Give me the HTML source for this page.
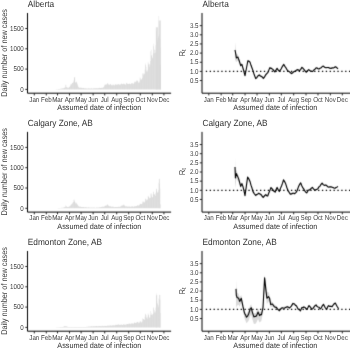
<!DOCTYPE html><html><head><meta charset="utf-8"><style>html,body{margin:0;padding:0;background:#fff;width:350px;height:350px;overflow:hidden}svg{display:block}text{font-family:"Liberation Sans", sans-serif;text-rendering:geometricPrecision}</style></head><body>
<div id="w"><svg width="350" height="350" viewBox="0 0 350 350">
<defs><filter id="bl" x="0" y="0" width="350" height="350" filterUnits="userSpaceOnUse" color-interpolation-filters="sRGB"><feConvolveMatrix order="3" kernelMatrix="0.0144 0.0912 0.0144 0.0912 0.5776 0.0912 0.0144 0.0912 0.0144" divisor="1" edgeMode="duplicate"/></filter></defs>
<g filter="url(#bl)"><rect width="350" height="350" fill="#fff"/>
<path fill="#e3e3e3" d="M158.6 89.4H160.9V20.38H158.6zM155.8 89.4H158.1V27.28H155.8z"/>
<path fill="#d9d9d9" d="M55.79 89.4h0.35v-0.06h-0.35zM56.18 89.4h0.35v-0.12h-0.35zM56.57 89.4h0.35v-0.15h-0.35zM56.95 89.4h0.35v-0.19h-0.35zM57.34 89.4h0.35v-0.23h-0.35zM57.73 89.4h0.35v-0.25h-0.35zM58.11 89.4h0.35v-0.34h-0.35zM58.5 89.4h0.35v-0.41h-0.35zM58.89 89.4h0.35v-0.48h-0.35zM59.27 89.4h0.35v-0.46h-0.35zM59.66 89.4h0.35v-0.48h-0.35zM60.05 89.4h0.35v-0.55h-0.35zM60.43 89.4h0.35v-0.65h-0.35zM60.82 89.4h0.35v-0.68h-0.35zM61.21 89.4h0.35v-0.88h-0.35zM61.59 89.4h0.35v-0.99h-0.35zM61.98 89.4h0.35v-1.04h-0.35zM62.37 89.4h0.35v-1h-0.35zM62.76 89.4h0.35v-1h-0.35zM63.14 89.4h0.35v-1.16h-0.35zM63.53 89.4h0.35v-1.13h-0.35zM63.92 89.4h0.35v-1.6h-0.35zM64.3 89.4h0.35v-1.61h-0.35zM64.69 89.4h0.35v-1.63h-0.35zM65.08 89.4h0.35v-2.07h-0.35zM65.46 89.4h0.35v-4.62h-0.35zM65.85 89.4h0.35v-4.73h-0.35zM66.24 89.4h0.35v-2.32h-0.35zM66.62 89.4h0.35v-2.08h-0.35zM67.01 89.4h0.35v-1.98h-0.35zM67.4 89.4h0.35v-1.71h-0.35zM67.79 89.4h0.35v-1.62h-0.35zM68.17 89.4h0.35v-1.57h-0.35zM68.56 89.4h0.35v-1.73h-0.35zM68.95 89.4h0.35v-2.04h-0.35zM69.33 89.4h0.35v-2.75h-0.35zM69.72 89.4h0.35v-2.76h-0.35zM70.11 89.4h0.35v-3.59h-0.35zM70.49 89.4h0.35v-4.96h-0.35zM70.88 89.4h0.35v-5.1h-0.35zM71.27 89.4h0.35v-4.98h-0.35zM71.65 89.4h0.35v-5.69h-0.35zM72.04 89.4h0.35v-6.66h-0.35zM72.43 89.4h0.35v-6.31h-0.35zM72.82 89.4h0.35v-6.47h-0.35zM73.2 89.4h0.35v-7.45h-0.35zM73.59 89.4h0.35v-8.95h-0.35zM73.98 89.4h0.35v-12h-0.35zM74.36 89.4h0.35v-12.01h-0.35zM74.75 89.4h0.35v-12.48h-0.35zM75.14 89.4h0.35v-7.46h-0.35zM75.52 89.4h0.35v-6.74h-0.35zM75.91 89.4h0.35v-6.74h-0.35zM76.3 89.4h0.35v-7.49h-0.35zM76.68 89.4h0.35v-7.92h-0.35zM77.07 89.4h0.35v-5.9h-0.35zM77.46 89.4h0.35v-4.81h-0.35zM77.84 89.4h0.35v-3.76h-0.35zM78.23 89.4h0.35v-2.5h-0.35zM78.62 89.4h0.35v-2.16h-0.35zM79.01 89.4h0.35v-1.77h-0.35zM79.39 89.4h0.35v-1.74h-0.35zM79.78 89.4h0.35v-1.67h-0.35zM80.17 89.4h0.35v-1.86h-0.35zM80.55 89.4h0.35v-1.73h-0.35zM80.94 89.4h0.35v-1.65h-0.35zM81.33 89.4h0.35v-1.55h-0.35zM81.71 89.4h0.35v-1.34h-0.35zM82.1 89.4h0.35v-1.34h-0.35zM82.49 89.4h0.35v-1.25h-0.35zM82.87 89.4h0.35v-1.55h-0.35zM83.26 89.4h0.35v-1.44h-0.35zM83.65 89.4h0.35v-1.36h-0.35zM84.04 89.4h0.35v-1.22h-0.35zM84.42 89.4h0.35v-1.03h-0.35zM84.81 89.4h0.35v-1.01h-0.35zM85.2 89.4h0.35v-1.1h-0.35zM85.58 89.4h0.35v-1.13h-0.35zM85.97 89.4h0.35v-1.16h-0.35zM86.36 89.4h0.35v-1.02h-0.35zM86.74 89.4h0.35v-0.94h-0.35zM87.13 89.4h0.35v-0.88h-0.35zM87.52 89.4h0.35v-0.98h-0.35zM87.9 89.4h0.35v-0.92h-0.35zM88.29 89.4h0.35v-1.06h-0.35zM88.68 89.4h0.35v-1.04h-0.35zM89.06 89.4h0.35v-1.03h-0.35zM89.45 89.4h0.35v-0.85h-0.35zM89.84 89.4h0.35v-0.85h-0.35zM90.23 89.4h0.35v-0.88h-0.35zM90.61 89.4h0.35v-0.99h-0.35zM91 89.4h0.35v-1.15h-0.35zM91.39 89.4h0.35v-1.14h-0.35zM91.77 89.4h0.35v-0.98h-0.35zM92.16 89.4h0.35v-0.96h-0.35zM92.55 89.4h0.35v-0.93h-0.35zM92.93 89.4h0.35v-1.02h-0.35zM93.32 89.4h0.35v-1.11h-0.35zM93.71 89.4h0.35v-1.14h-0.35zM94.09 89.4h0.35v-1.13h-0.35zM94.48 89.4h0.35v-1.07h-0.35zM94.87 89.4h0.35v-1.03h-0.35zM95.26 89.4h0.35v-1.05h-0.35zM95.64 89.4h0.35v-1.09h-0.35zM96.03 89.4h0.35v-1.11h-0.35zM96.42 89.4h0.35v-1.25h-0.35zM96.8 89.4h0.35v-1.33h-0.35zM97.19 89.4h0.35v-1.25h-0.35zM97.58 89.4h0.35v-1.24h-0.35zM97.96 89.4h0.35v-1.29h-0.35zM98.35 89.4h0.35v-1.26h-0.35zM98.74 89.4h0.35v-1.32h-0.35zM99.12 89.4h0.35v-1.57h-0.35zM99.51 89.4h0.35v-1.57h-0.35zM99.9 89.4h0.35v-1.34h-0.35zM100.28 89.4h0.35v-1.49h-0.35zM100.67 89.4h0.35v-1.43h-0.35zM101.06 89.4h0.35v-1.48h-0.35zM101.45 89.4h0.35v-1.59h-0.35zM101.83 89.4h0.35v-1.75h-0.35zM102.22 89.4h0.35v-1.74h-0.35zM102.61 89.4h0.35v-1.57h-0.35zM102.99 89.4h0.35v-1.91h-0.35zM103.38 89.4h0.35v-2.2h-0.35zM103.77 89.4h0.35v-2.74h-0.35zM104.15 89.4h0.35v-3.54h-0.35zM104.54 89.4h0.35v-4.58h-0.35zM104.93 89.4h0.35v-4.99h-0.35zM105.31 89.4h0.35v-4.77h-0.35zM105.7 89.4h0.35v-4.82h-0.35zM106.09 89.4h0.35v-4.85h-0.35zM106.48 89.4h0.35v-4.81h-0.35zM106.86 89.4h0.35v-5.31h-0.35zM107.25 89.4h0.35v-5.8h-0.35zM107.64 89.4h0.35v-6.45h-0.35zM108.02 89.4h0.35v-5.68h-0.35zM108.41 89.4h0.35v-4.86h-0.35zM108.8 89.4h0.35v-4.62h-0.35zM109.18 89.4h0.35v-4.56h-0.35zM109.57 89.4h0.35v-4.7h-0.35zM109.96 89.4h0.35v-5.09h-0.35zM110.34 89.4h0.35v-5.5h-0.35zM110.73 89.4h0.35v-5.16h-0.35zM111.12 89.4h0.35v-4.47h-0.35zM111.51 89.4h0.35v-4.25h-0.35zM111.89 89.4h0.35v-3.94h-0.35zM112.28 89.4h0.35v-4.13h-0.35zM112.67 89.4h0.35v-4.91h-0.35zM113.05 89.4h0.35v-4.72h-0.35zM113.44 89.4h0.35v-4.84h-0.35zM113.83 89.4h0.35v-4.17h-0.35zM114.21 89.4h0.35v-3.94h-0.35zM114.6 89.4h0.35v-4.63h-0.35zM114.99 89.4h0.35v-4.63h-0.35zM115.37 89.4h0.35v-5.07h-0.35zM115.76 89.4h0.35v-5.31h-0.35zM116.15 89.4h0.35v-4.54h-0.35zM116.53 89.4h0.35v-4.7h-0.35zM116.92 89.4h0.35v-4.85h-0.35zM117.31 89.4h0.35v-4.78h-0.35zM117.7 89.4h0.35v-4.94h-0.35zM118.08 89.4h0.35v-5.34h-0.35zM118.47 89.4h0.35v-5.3h-0.35zM118.86 89.4h0.35v-4.77h-0.35zM119.24 89.4h0.35v-5.01h-0.35zM119.63 89.4h0.35v-4.64h-0.35zM120.02 89.4h0.35v-4.85h-0.35zM120.4 89.4h0.35v-4.82h-0.35zM120.79 89.4h0.35v-5.51h-0.35zM121.18 89.4h0.35v-5.93h-0.35zM121.56 89.4h0.35v-5.69h-0.35zM121.95 89.4h0.35v-5.34h-0.35zM122.34 89.4h0.35v-5.12h-0.35zM122.73 89.4h0.35v-5.17h-0.35zM123.11 89.4h0.35v-5.45h-0.35zM123.5 89.4h0.35v-5.84h-0.35zM123.89 89.4h0.35v-5.99h-0.35zM124.27 89.4h0.35v-5.46h-0.35zM124.66 89.4h0.35v-4.94h-0.35zM125.05 89.4h0.35v-4.75h-0.35zM125.43 89.4h0.35v-4.96h-0.35zM125.82 89.4h0.35v-5.22h-0.35zM126.21 89.4h0.35v-6.47h-0.35zM126.59 89.4h0.35v-6.53h-0.35zM126.98 89.4h0.35v-5.6h-0.35zM127.37 89.4h0.35v-5.73h-0.35zM127.75 89.4h0.35v-5.54h-0.35zM128.14 89.4h0.35v-5.51h-0.35zM128.53 89.4h0.35v-5.31h-0.35zM128.92 89.4h0.35v-5.99h-0.35zM129.3 89.4h0.35v-5.82h-0.35zM129.69 89.4h0.35v-5.38h-0.35zM130.08 89.4h0.35v-5.13h-0.35zM130.46 89.4h0.35v-5.3h-0.35zM130.85 89.4h0.35v-5.56h-0.35zM131.24 89.4h0.35v-5.86h-0.35zM131.62 89.4h0.35v-6.44h-0.35zM132.01 89.4h0.35v-6.47h-0.35zM132.4 89.4h0.35v-6.18h-0.35zM132.78 89.4h0.35v-5.25h-0.35zM133.17 89.4h0.35v-5.57h-0.35zM133.56 89.4h0.35v-5.82h-0.35zM133.95 89.4h0.35v-6.19h-0.35zM134.33 89.4h0.35v-7.61h-0.35zM134.72 89.4h0.35v-7.54h-0.35zM135.11 89.4h0.35v-7.07h-0.35zM135.49 89.4h0.35v-7.83h-0.35zM135.88 89.4h0.35v-7.37h-0.35zM136.27 89.4h0.35v-8.34h-0.35zM136.65 89.4h0.35v-9.19h-0.35zM137.04 89.4h0.35v-9.22h-0.35zM137.43 89.4h0.35v-8.48h-0.35zM137.81 89.4h0.35v-8.09h-0.35zM138.2 89.4h0.35v-7.14h-0.35zM138.59 89.4h0.35v-6.4h-0.35zM138.97 89.4h0.35v-6.71h-0.35zM139.36 89.4h0.35v-7.86h-0.35zM139.75 89.4h0.35v-11.92h-0.35zM140.14 89.4h0.35v-11.72h-0.35zM140.52 89.4h0.35v-9.7h-0.35zM140.91 89.4h0.35v-10.26h-0.35zM141.3 89.4h0.35v-10.12h-0.35zM141.68 89.4h0.35v-10.02h-0.35zM142.07 89.4h0.35v-11.29h-0.35zM142.46 89.4h0.35v-16.12h-0.35zM142.84 89.4h0.35v-15.39h-0.35zM143.23 89.4h0.35v-14.18h-0.35zM143.62 89.4h0.35v-16.14h-0.35zM144 89.4h0.35v-15.19h-0.35zM144.39 89.4h0.35v-15.84h-0.35zM144.78 89.4h0.35v-19.69h-0.35zM145.17 89.4h0.35v-24.51h-0.35zM145.55 89.4h0.35v-25.86h-0.35zM145.94 89.4h0.35v-22.73h-0.35zM146.33 89.4h0.35v-18.84h-0.35zM146.71 89.4h0.35v-17.65h-0.35zM147.1 89.4h0.35v-17.87h-0.35zM147.49 89.4h0.35v-19.74h-0.35zM147.87 89.4h0.35v-27.69h-0.35zM148.26 89.4h0.35v-26.27h-0.35zM148.65 89.4h0.35v-24.87h-0.35zM149.03 89.4h0.35v-22.77h-0.35zM149.42 89.4h0.35v-25.34h-0.35zM149.81 89.4h0.35v-24.59h-0.35zM150.19 89.4h0.35v-28.51h-0.35zM150.58 89.4h0.35v-38.25h-0.35zM150.97 89.4h0.35v-39.55h-0.35zM151.36 89.4h0.35v-33.69h-0.35zM151.74 89.4h0.35v-34.49h-0.35zM152.13 89.4h0.35v-31.11h-0.35zM152.52 89.4h0.35v-31.89h-0.35zM152.9 89.4h0.35v-36h-0.35zM153.29 89.4h0.35v-43.21h-0.35zM153.68 89.4h0.35v-45.65h-0.35zM154.06 89.4h0.35v-39.81h-0.35zM154.45 89.4h0.35v-36.26h-0.35zM154.84 89.4h0.35v-39.39h-0.35zM155.22 89.4h0.35v-36.72h-0.35zM155.61 89.4h0.35v-44.24h-0.35zM156 89.4h0.35v-61.01h-0.35zM156.39 89.4h0.35v-58.51h-0.35zM156.77 89.4h0.35v-51.19h-0.35zM157.16 89.4h0.35v-49.48h-0.35zM157.55 89.4h0.35v-47.67h-0.35zM157.93 89.4h0.35v-51.7h-0.35zM158.32 89.4h0.35v-53.62h-0.35zM158.71 89.4h0.35v-73.41h-0.35zM159.09 89.4h0.35v-65.9h-0.35zM159.48 89.4h0.35v-54.9h-0.35zM159.87 89.4h0.35v-50.43h-0.35zM160.25 89.4h0.35v-41.43h-0.35zM160.64 89.4h0.35v-24.15h-0.35z"/>
<path d="M27.5 13 V93.2 H171.1" fill="none" stroke="#000" stroke-width="1"/>
<path d="M25.3 89.4H27.5M25.3 69.1H27.5M25.3 48.8H27.5M25.3 28.5H27.5M34.3 93.2V95.4M46.29 93.2V95.4M57.51 93.2V95.4M69.51 93.2V95.4M81.11 93.2V95.4M93.11 93.2V95.4M104.72 93.2V95.4M116.71 93.2V95.4M128.7 93.2V95.4M140.31 93.2V95.4M152.3 93.2V95.4M163.91 93.2V95.4" stroke="#222" stroke-width="1" fill="none"/>
<polygon points="235,42 235.7,49.1 236.4,54.31 237.9,54.53 239.3,58.93 240.7,64.1 241.9,62.89 243.5,68.75 245,74.6 246.5,66.99 247.9,59.68 250,61.06 252,66.94 254,72.92 255.7,77.5 257.5,75.38 259.3,73.86 261.5,75.34 263.4,77.22 266.3,72.92 268,71.24 269.7,66.76 271.4,67.29 273.1,68.51 274.9,70.83 277.1,67.36 279.4,70.29 281.1,68.01 283.8,63.43 286.9,68.65 289,70.56 291.4,72.68 294.3,70.6 297.9,68.72 299.6,69.83 301.9,66.45 304.1,68.76 306.4,71.38 308.7,68.79 311,70.31 312.7,70.72 316.1,67.14 319,68.26 323.3,65.39 325.9,67.11 328.4,66.82 331.1,67.74 333.3,67.36 335.4,66.07 338,68.29 338,69.51 335.4,67.33 333.3,68.64 331.1,69.06 328.4,68.18 325.9,68.49 323.3,66.81 319,69.74 316.1,68.66 312.7,72.28 311,71.89 308.7,70.41 306.4,73.02 304.1,70.44 301.9,68.15 299.6,71.57 297.9,70.48 294.3,72.4 291.4,74.52 289,72.44 286.9,70.55 283.8,65.37 281.1,69.99 279.4,72.31 277.1,69.44 274.9,72.97 273.1,70.69 271.4,69.51 269.7,69.04 268,73.56 266.3,75.28 263.4,79.58 261.5,77.66 259.3,76.14 257.5,77.62 255.7,79.7 254,75.08 252,69.06 250,63.14 247.9,61.72 246.5,69.01 245,76.8 243.5,71.25 241.9,65.71 240.7,67.35 239.3,63.35 237.9,60.19 236.4,62.35 235.7,59.48 235,62" fill="#dadada"/>
<line x1="204" y1="71.4" x2="350.5" y2="71.4" stroke="#000" stroke-width="1.2" stroke-dasharray="1.3 2.57" stroke-dashoffset="2.05"/>
<polyline points="235,50 235.7,53.6 236.4,57.9 237.9,57.1 239.3,61 240.7,65.7 241.9,64.3 243.5,70 245,75.7 246.5,68 247.9,60.7 248.95,61.24 250,62.1 251,65.29 252,68 253,70.68 254,74 255.7,78.6 256.6,77.85 257.5,76.5 258.4,75.44 259.3,75 260.4,75.98 261.5,76.5 262.45,77.12 263.4,78.4 264.37,77.22 265.33,75.39 266.3,74.1 268,72.4 269.7,67.9 271.4,68.4 273.1,69.6 274,70.99 274.9,71.9 276,70.01 277.1,68.4 278.25,70.21 279.4,71.3 281.1,69 282.45,66.34 283.8,64.4 284.83,66.34 285.87,67.66 286.9,69.6 287.95,70.87 289,71.5 290.2,72.37 291.4,73.6 292.37,73.07 293.33,72.03 294.3,71.5 295.5,71.08 296.7,69.95 297.9,69.6 299.6,70.7 300.75,69.37 301.9,67.3 303,68.27 304.1,69.6 305.25,71.26 306.4,72.2 307.55,70.64 308.7,69.6 309.85,70.7 311,71.1 312.7,71.5 313.83,69.97 314.97,69.27 316.1,67.9 317.07,67.98 318.03,68.79 319,69 320.07,68.15 321.15,67.77 322.23,66.51 323.3,66.1 324.6,67.22 325.9,67.8 327.15,67.48 328.4,67.5 329.75,68.29 331.1,68.4 332.2,67.85 333.3,68 334.35,67.53 335.4,66.7 336.7,67.56 338,68.9" fill="none" stroke="#000" stroke-width="1.1" stroke-linejoin="round"/>
<path d="M202 13 V93.2 H350.5" fill="none" stroke="#000" stroke-width="1"/>
<path d="M199.8 80.55H202M199.8 71.4H202M199.8 62.25H202M199.8 53.1H202M199.8 43.95H202M199.8 34.8H202M199.8 25.65H202M208.8 93.2V95.4M221.15 93.2V95.4M232.71 93.2V95.4M245.06 93.2V95.4M257.02 93.2V95.4M269.37 93.2V95.4M281.33 93.2V95.4M293.68 93.2V95.4M306.03 93.2V95.4M317.99 93.2V95.4M330.34 93.2V95.4M342.3 93.2V95.4" stroke="#222" stroke-width="1" fill="none"/>
<path fill="#e3e3e3" d="M158.9 208.3H159.8V178.66H158.9z"/>
<path fill="#d9d9d9" d="M56.18 208.3h0.35v-0.07h-0.35zM56.57 208.3h0.35v-0.1h-0.35zM56.95 208.3h0.35v-0.12h-0.35zM57.34 208.3h0.35v-0.14h-0.35zM57.73 208.3h0.35v-0.18h-0.35zM58.11 208.3h0.35v-0.22h-0.35zM58.5 208.3h0.35v-0.29h-0.35zM58.89 208.3h0.35v-0.32h-0.35zM59.27 208.3h0.35v-0.35h-0.35zM59.66 208.3h0.35v-0.35h-0.35zM60.05 208.3h0.35v-0.38h-0.35zM60.43 208.3h0.35v-0.42h-0.35zM60.82 208.3h0.35v-0.43h-0.35zM61.21 208.3h0.35v-0.57h-0.35zM61.59 208.3h0.35v-0.63h-0.35zM61.98 208.3h0.35v-0.63h-0.35zM62.37 208.3h0.35v-0.6h-0.35zM62.76 208.3h0.35v-0.63h-0.35zM63.14 208.3h0.35v-0.73h-0.35zM63.53 208.3h0.35v-0.79h-0.35zM63.92 208.3h0.35v-1.03h-0.35zM64.3 208.3h0.35v-1.08h-0.35zM64.69 208.3h0.35v-1.22h-0.35zM65.08 208.3h0.35v-1.29h-0.35zM65.46 208.3h0.35v-2.82h-0.35zM65.85 208.3h0.35v-2.65h-0.35zM66.24 208.3h0.35v-2.1h-0.35zM66.62 208.3h0.35v-1.5h-0.35zM67.01 208.3h0.35v-1.34h-0.35zM67.4 208.3h0.35v-1.4h-0.35zM67.79 208.3h0.35v-1.34h-0.35zM68.17 208.3h0.35v-1.23h-0.35zM68.56 208.3h0.35v-1.49h-0.35zM68.95 208.3h0.35v-1.55h-0.35zM69.33 208.3h0.35v-1.93h-0.35zM69.72 208.3h0.35v-2.15h-0.35zM70.11 208.3h0.35v-2.65h-0.35zM70.49 208.3h0.35v-3.05h-0.35zM70.88 208.3h0.35v-3.74h-0.35zM71.27 208.3h0.35v-3.88h-0.35zM71.65 208.3h0.35v-4.08h-0.35zM72.04 208.3h0.35v-4.7h-0.35zM72.43 208.3h0.35v-5.04h-0.35zM72.82 208.3h0.35v-6.12h-0.35zM73.2 208.3h0.35v-6.3h-0.35zM73.59 208.3h0.35v-8.49h-0.35zM73.98 208.3h0.35v-8.74h-0.35zM74.36 208.3h0.35v-7.59h-0.35zM74.75 208.3h0.35v-6.62h-0.35zM75.14 208.3h0.35v-5.91h-0.35zM75.52 208.3h0.35v-5.05h-0.35zM75.91 208.3h0.35v-4.15h-0.35zM76.3 208.3h0.35v-4.94h-0.35zM76.68 208.3h0.35v-5.48h-0.35zM77.07 208.3h0.35v-4.15h-0.35zM77.46 208.3h0.35v-3.48h-0.35zM77.84 208.3h0.35v-2.97h-0.35zM78.23 208.3h0.35v-2.2h-0.35zM78.62 208.3h0.35v-2.09h-0.35zM79.01 208.3h0.35v-1.68h-0.35zM79.39 208.3h0.35v-1.48h-0.35zM79.78 208.3h0.35v-1.45h-0.35zM80.17 208.3h0.35v-1.74h-0.35zM80.55 208.3h0.35v-1.63h-0.35zM80.94 208.3h0.35v-1.35h-0.35zM81.33 208.3h0.35v-1.22h-0.35zM81.71 208.3h0.35v-1.29h-0.35zM82.1 208.3h0.35v-1.19h-0.35zM82.49 208.3h0.35v-1.25h-0.35zM82.87 208.3h0.35v-1.26h-0.35zM83.26 208.3h0.35v-1.18h-0.35zM83.65 208.3h0.35v-1.18h-0.35zM84.04 208.3h0.35v-1.05h-0.35zM84.42 208.3h0.35v-0.93h-0.35zM84.81 208.3h0.35v-1.04h-0.35zM85.2 208.3h0.35v-1.03h-0.35zM85.58 208.3h0.35v-1.19h-0.35zM85.97 208.3h0.35v-1h-0.35zM86.36 208.3h0.35v-1.03h-0.35zM86.74 208.3h0.35v-0.84h-0.35zM87.13 208.3h0.35v-0.89h-0.35zM87.52 208.3h0.35v-0.81h-0.35zM87.9 208.3h0.35v-0.82h-0.35zM88.29 208.3h0.35v-0.95h-0.35zM88.68 208.3h0.35v-0.95h-0.35zM89.06 208.3h0.35v-0.77h-0.35zM89.45 208.3h0.35v-0.69h-0.35zM89.84 208.3h0.35v-0.69h-0.35zM90.23 208.3h0.35v-0.66h-0.35zM90.61 208.3h0.35v-0.68h-0.35zM91 208.3h0.35v-0.79h-0.35zM91.39 208.3h0.35v-0.75h-0.35zM91.77 208.3h0.35v-0.72h-0.35zM92.16 208.3h0.35v-0.69h-0.35zM92.55 208.3h0.35v-0.66h-0.35zM92.93 208.3h0.35v-0.71h-0.35zM93.32 208.3h0.35v-0.7h-0.35zM93.71 208.3h0.35v-0.84h-0.35zM94.09 208.3h0.35v-0.77h-0.35zM94.48 208.3h0.35v-0.74h-0.35zM94.87 208.3h0.35v-0.66h-0.35zM95.26 208.3h0.35v-0.66h-0.35zM95.64 208.3h0.35v-0.63h-0.35zM96.03 208.3h0.35v-0.76h-0.35zM96.42 208.3h0.35v-0.87h-0.35zM96.8 208.3h0.35v-0.82h-0.35zM97.19 208.3h0.35v-0.81h-0.35zM97.58 208.3h0.35v-0.85h-0.35zM97.96 208.3h0.35v-0.73h-0.35zM98.35 208.3h0.35v-0.83h-0.35zM98.74 208.3h0.35v-0.85h-0.35zM99.12 208.3h0.35v-1.01h-0.35zM99.51 208.3h0.35v-1.05h-0.35zM99.9 208.3h0.35v-0.94h-0.35zM100.28 208.3h0.35v-1h-0.35zM100.67 208.3h0.35v-1.07h-0.35zM101.06 208.3h0.35v-1.21h-0.35zM101.45 208.3h0.35v-1.24h-0.35zM101.83 208.3h0.35v-1.65h-0.35zM102.22 208.3h0.35v-1.68h-0.35zM102.61 208.3h0.35v-1.63h-0.35zM102.99 208.3h0.35v-1.58h-0.35zM103.38 208.3h0.35v-1.58h-0.35zM103.77 208.3h0.35v-1.58h-0.35zM104.15 208.3h0.35v-1.85h-0.35zM104.54 208.3h0.35v-2.32h-0.35zM104.93 208.3h0.35v-2.72h-0.35zM105.31 208.3h0.35v-2.52h-0.35zM105.7 208.3h0.35v-2.53h-0.35zM106.09 208.3h0.35v-2.56h-0.35zM106.48 208.3h0.35v-3.07h-0.35zM106.86 208.3h0.35v-3.46h-0.35zM107.25 208.3h0.35v-4.06h-0.35zM107.64 208.3h0.35v-3.44h-0.35zM108.02 208.3h0.35v-2.93h-0.35zM108.41 208.3h0.35v-2.57h-0.35zM108.8 208.3h0.35v-2.31h-0.35zM109.18 208.3h0.35v-1.98h-0.35zM109.57 208.3h0.35v-1.95h-0.35zM109.96 208.3h0.35v-2h-0.35zM110.34 208.3h0.35v-2.11h-0.35zM110.73 208.3h0.35v-1.92h-0.35zM111.12 208.3h0.35v-1.66h-0.35zM111.51 208.3h0.35v-1.48h-0.35zM111.89 208.3h0.35v-1.61h-0.35zM112.28 208.3h0.35v-1.5h-0.35zM112.67 208.3h0.35v-1.69h-0.35zM113.05 208.3h0.35v-1.51h-0.35zM113.44 208.3h0.35v-1.45h-0.35zM113.83 208.3h0.35v-1.35h-0.35zM114.21 208.3h0.35v-1.26h-0.35zM114.6 208.3h0.35v-1.16h-0.35zM114.99 208.3h0.35v-1.27h-0.35zM115.37 208.3h0.35v-1.37h-0.35zM115.76 208.3h0.35v-1.4h-0.35zM116.15 208.3h0.35v-1.28h-0.35zM116.53 208.3h0.35v-1.29h-0.35zM116.92 208.3h0.35v-1.18h-0.35zM117.31 208.3h0.35v-1.19h-0.35zM117.7 208.3h0.35v-1.33h-0.35zM118.08 208.3h0.35v-1.53h-0.35zM118.47 208.3h0.35v-1.59h-0.35zM118.86 208.3h0.35v-1.48h-0.35zM119.24 208.3h0.35v-1.46h-0.35zM119.63 208.3h0.35v-1.4h-0.35zM120.02 208.3h0.35v-1.53h-0.35zM120.4 208.3h0.35v-1.92h-0.35zM120.79 208.3h0.35v-2.32h-0.35zM121.18 208.3h0.35v-2.5h-0.35zM121.56 208.3h0.35v-2.84h-0.35zM121.95 208.3h0.35v-2.58h-0.35zM122.34 208.3h0.35v-2.95h-0.35zM122.73 208.3h0.35v-3.15h-0.35zM123.11 208.3h0.35v-3.14h-0.35zM123.5 208.3h0.35v-3.85h-0.35zM123.89 208.3h0.35v-3.5h-0.35zM124.27 208.3h0.35v-2.88h-0.35zM124.66 208.3h0.35v-2.55h-0.35zM125.05 208.3h0.35v-2.25h-0.35zM125.43 208.3h0.35v-1.82h-0.35zM125.82 208.3h0.35v-1.82h-0.35zM126.21 208.3h0.35v-2.07h-0.35zM126.59 208.3h0.35v-2.1h-0.35zM126.98 208.3h0.35v-1.92h-0.35zM127.37 208.3h0.35v-1.81h-0.35zM127.75 208.3h0.35v-1.65h-0.35zM128.14 208.3h0.35v-1.72h-0.35zM128.53 208.3h0.35v-1.74h-0.35zM128.92 208.3h0.35v-1.99h-0.35zM129.3 208.3h0.35v-1.77h-0.35zM129.69 208.3h0.35v-1.57h-0.35zM130.08 208.3h0.35v-1.52h-0.35zM130.46 208.3h0.35v-1.53h-0.35zM130.85 208.3h0.35v-1.48h-0.35zM131.24 208.3h0.35v-1.77h-0.35zM131.62 208.3h0.35v-1.98h-0.35zM132.01 208.3h0.35v-1.95h-0.35zM132.4 208.3h0.35v-1.83h-0.35zM132.78 208.3h0.35v-1.76h-0.35zM133.17 208.3h0.35v-1.65h-0.35zM133.56 208.3h0.35v-1.54h-0.35zM133.95 208.3h0.35v-1.86h-0.35zM134.33 208.3h0.35v-2.15h-0.35zM134.72 208.3h0.35v-2.03h-0.35zM135.11 208.3h0.35v-2h-0.35zM135.49 208.3h0.35v-2.08h-0.35zM135.88 208.3h0.35v-1.93h-0.35zM136.27 208.3h0.35v-2.29h-0.35zM136.65 208.3h0.35v-2.37h-0.35zM137.04 208.3h0.35v-2.81h-0.35zM137.43 208.3h0.35v-2.97h-0.35zM137.81 208.3h0.35v-3.12h-0.35zM138.2 208.3h0.35v-2.64h-0.35zM138.59 208.3h0.35v-2.82h-0.35zM138.97 208.3h0.35v-3.1h-0.35zM139.36 208.3h0.35v-3.37h-0.35zM139.75 208.3h0.35v-4.46h-0.35zM140.14 208.3h0.35v-4.53h-0.35zM140.52 208.3h0.35v-4.31h-0.35zM140.91 208.3h0.35v-4.22h-0.35zM141.3 208.3h0.35v-4.1h-0.35zM141.68 208.3h0.35v-4.4h-0.35zM142.07 208.3h0.35v-4.74h-0.35zM142.46 208.3h0.35v-6.52h-0.35zM142.84 208.3h0.35v-6.69h-0.35zM143.23 208.3h0.35v-6.72h-0.35zM143.62 208.3h0.35v-5.99h-0.35zM144 208.3h0.35v-6.07h-0.35zM144.39 208.3h0.35v-5.79h-0.35zM144.78 208.3h0.35v-6.73h-0.35zM145.17 208.3h0.35v-9.27h-0.35zM145.55 208.3h0.35v-9.77h-0.35zM145.94 208.3h0.35v-8.95h-0.35zM146.33 208.3h0.35v-8.45h-0.35zM146.71 208.3h0.35v-7.64h-0.35zM147.1 208.3h0.35v-8.23h-0.35zM147.49 208.3h0.35v-9.38h-0.35zM147.87 208.3h0.35v-12.44h-0.35zM148.26 208.3h0.35v-11.53h-0.35zM148.65 208.3h0.35v-11.74h-0.35zM149.03 208.3h0.35v-9.77h-0.35zM149.42 208.3h0.35v-10.44h-0.35zM149.81 208.3h0.35v-10.6h-0.35zM150.19 208.3h0.35v-10.37h-0.35zM150.58 208.3h0.35v-14.64h-0.35zM150.97 208.3h0.35v-15.09h-0.35zM151.36 208.3h0.35v-13.89h-0.35zM151.74 208.3h0.35v-11.91h-0.35zM152.13 208.3h0.35v-10.93h-0.35zM152.52 208.3h0.35v-11.05h-0.35zM152.9 208.3h0.35v-14.03h-0.35zM153.29 208.3h0.35v-16.29h-0.35zM153.68 208.3h0.35v-16.77h-0.35zM154.06 208.3h0.35v-13.98h-0.35zM154.45 208.3h0.35v-13.77h-0.35zM154.84 208.3h0.35v-13.85h-0.35zM155.22 208.3h0.35v-12.36h-0.35zM155.61 208.3h0.35v-15.56h-0.35zM156 208.3h0.35v-19.29h-0.35zM156.39 208.3h0.35v-19.8h-0.35zM156.77 208.3h0.35v-17.52h-0.35zM157.16 208.3h0.35v-15.28h-0.35zM157.55 208.3h0.35v-16.24h-0.35zM157.93 208.3h0.35v-16.07h-0.35zM158.32 208.3h0.35v-18.28h-0.35zM158.71 208.3h0.35v-25.6h-0.35zM159.09 208.3h0.35v-28.8h-0.35zM159.48 208.3h0.35v-24.4h-0.35zM159.87 208.3h0.35v-19.68h-0.35zM160.25 208.3h0.35v-4h-0.35z"/>
<path d="M27.5 131.9 V212.1 H171.1" fill="none" stroke="#000" stroke-width="1"/>
<path d="M25.3 208.3H27.5M25.3 188H27.5M25.3 167.7H27.5M25.3 147.4H27.5M34.3 212.1V214.3M46.29 212.1V214.3M57.51 212.1V214.3M69.51 212.1V214.3M81.11 212.1V214.3M93.11 212.1V214.3M104.72 212.1V214.3M116.71 212.1V214.3M128.7 212.1V214.3M140.31 212.1V214.3M152.3 212.1V214.3M163.91 212.1V214.3" stroke="#222" stroke-width="1" fill="none"/>
<polygon points="235,157.1 235.4,170.9 236.4,169.88 238.6,175.91 240.7,184.47 241.9,182.07 242.9,184.97 245,194.42 247.6,175.89 250,180.18 252.9,190.17 255.7,194.16 258.6,192.05 261.4,193.74 263.2,196.03 265.8,193.42 267.7,194.71 270.9,186.31 272.9,188.52 275.2,190.84 277.1,186.16 279.3,190.28 281.6,184.5 283.5,178.72 285.7,182.63 288,189.65 290.2,192.97 292.8,192.1 294.7,192.61 297.1,189.63 298.6,185.35 300.7,181.86 302.9,186.88 304.7,189.7 306.7,191.91 308.6,189.03 310.4,188.35 312.4,186.46 315,189.39 317.9,187.71 322.1,182.25 324.3,184.57 325.7,184.18 328.6,186.3 331.4,186.13 332.9,186.64 335,187.56 337.9,185.68 337.9,187.12 335,189.04 332.9,188.16 331.4,187.67 328.6,187.9 325.7,185.82 324.3,186.23 322.1,183.95 317.9,189.49 315,191.21 312.4,188.34 310.4,190.25 308.6,190.97 306.7,193.89 304.7,191.7 302.9,188.92 300.7,183.94 298.6,187.45 297.1,191.77 294.7,194.79 292.8,194.3 290.2,195.23 288,191.95 285.7,184.97 283.5,181.08 281.6,186.9 279.3,192.72 277.1,188.64 275.2,193.36 272.9,191.08 270.9,188.89 267.7,197.29 265.8,195.98 263.2,198.57 261.4,196.26 258.6,194.55 255.7,196.64 252.9,192.63 250,182.62 247.6,178.31 245,196.97 242.9,187.83 241.9,185.15 240.7,188.55 238.6,181.85 236.4,178.22 235.4,187.9 235,182.1" fill="#dadada"/>
<line x1="204" y1="190.3" x2="350.5" y2="190.3" stroke="#000" stroke-width="1.2" stroke-dasharray="1.3 2.57" stroke-dashoffset="2.05"/>
<polyline points="235,167.1 235.4,177.9 236.4,173.6 237.5,176.1 238.6,178.6 239.65,182.5 240.7,186.4 241.9,183.6 242.9,186.4 243.95,190.73 245,195.7 246.3,186.61 247.6,177.1 248.8,178.81 250,181.4 250.97,185.16 251.93,187.78 252.9,191.4 254.3,193.75 255.7,195.4 256.67,194.49 257.63,194.22 258.6,193.3 260,193.91 261.4,195 262.3,196.51 263.2,197.3 264.5,195.79 265.8,194.7 266.75,195.79 267.7,196 268.77,193.03 269.83,190.61 270.9,187.6 271.9,188.52 272.9,189.8 274.05,191.33 275.2,192.1 276.15,189.49 277.1,187.4 278.2,189.74 279.3,191.5 280.45,188.35 281.6,185.7 282.55,183.14 283.5,179.9 284.6,181.58 285.7,183.8 286.85,187.51 288,190.8 289.1,192.17 290.2,194.1 291.5,193.89 292.8,193.2 293.75,193.27 294.7,193.7 295.9,192.6 297.1,190.7 298.6,186.4 299.65,184.3 300.7,182.9 301.8,185.75 302.9,187.9 303.8,188.89 304.7,190.7 305.7,192.07 306.7,192.9 307.65,191.19 308.6,190 309.5,189.93 310.4,189.3 311.4,188.08 312.4,187.4 313.7,189.2 315,190.3 315.97,189.58 316.93,189.46 317.9,188.6 318.95,186.91 320,186.1 321.05,184.32 322.1,183.1 323.2,184.61 324.3,185.4 325.7,185 326.67,185.55 327.63,186.72 328.6,187.1 330,186.8 331.4,186.9 332.9,187.4 333.95,188.01 335,188.3 335.97,187.46 336.93,187.2 337.9,186.4" fill="none" stroke="#000" stroke-width="1.1" stroke-linejoin="round"/>
<path d="M202 131.9 V212.1 H350.5" fill="none" stroke="#000" stroke-width="1"/>
<path d="M199.8 199.45H202M199.8 190.3H202M199.8 181.15H202M199.8 172H202M199.8 162.85H202M199.8 153.7H202M199.8 144.55H202M208.8 212.1V214.3M221.15 212.1V214.3M232.71 212.1V214.3M245.06 212.1V214.3M257.02 212.1V214.3M269.37 212.1V214.3M281.33 212.1V214.3M293.68 212.1V214.3M306.03 212.1V214.3M317.99 212.1V214.3M330.34 212.1V214.3M342.3 212.1V214.3" stroke="#222" stroke-width="1" fill="none"/>
<path fill="#e3e3e3" d="M156.1 327.4H157.2V294.92H156.1zM159.3 327.4H160.3V294.92H159.3z"/>
<path fill="#d9d9d9" d="M56.18 327.4h0.35v-0.07h-0.35zM56.57 327.4h0.35v-0.09h-0.35zM56.95 327.4h0.35v-0.12h-0.35zM57.34 327.4h0.35v-0.14h-0.35zM57.73 327.4h0.35v-0.14h-0.35zM58.11 327.4h0.35v-0.2h-0.35zM58.5 327.4h0.35v-0.25h-0.35zM58.89 327.4h0.35v-0.28h-0.35zM59.27 327.4h0.35v-0.26h-0.35zM59.66 327.4h0.35v-0.27h-0.35zM60.05 327.4h0.35v-0.29h-0.35zM60.43 327.4h0.35v-0.35h-0.35zM60.82 327.4h0.35v-0.38h-0.35zM61.21 327.4h0.35v-0.46h-0.35zM61.59 327.4h0.35v-0.49h-0.35zM61.98 327.4h0.35v-0.47h-0.35zM62.37 327.4h0.35v-0.46h-0.35zM62.76 327.4h0.35v-0.48h-0.35zM63.14 327.4h0.35v-0.64h-0.35zM63.53 327.4h0.35v-0.74h-0.35zM63.92 327.4h0.35v-1.11h-0.35zM64.3 327.4h0.35v-1.1h-0.35zM64.69 327.4h0.35v-1.15h-0.35zM65.08 327.4h0.35v-1.26h-0.35zM65.46 327.4h0.35v-1.26h-0.35zM65.85 327.4h0.35v-1.18h-0.35zM66.24 327.4h0.35v-1.06h-0.35zM66.62 327.4h0.35v-0.85h-0.35zM67.01 327.4h0.35v-0.63h-0.35zM67.4 327.4h0.35v-0.55h-0.35zM67.79 327.4h0.35v-0.53h-0.35zM68.17 327.4h0.35v-0.5h-0.35zM68.56 327.4h0.35v-0.46h-0.35zM68.95 327.4h0.35v-0.48h-0.35zM69.33 327.4h0.35v-0.48h-0.35zM69.72 327.4h0.35v-0.51h-0.35zM70.11 327.4h0.35v-0.44h-0.35zM70.49 327.4h0.35v-0.44h-0.35zM70.88 327.4h0.35v-0.41h-0.35zM71.27 327.4h0.35v-0.38h-0.35zM71.65 327.4h0.35v-0.38h-0.35zM72.04 327.4h0.35v-0.5h-0.35zM72.43 327.4h0.35v-0.42h-0.35zM72.82 327.4h0.35v-0.41h-0.35zM73.2 327.4h0.35v-0.37h-0.35zM73.59 327.4h0.35v-0.35h-0.35zM73.98 327.4h0.35v-0.37h-0.35zM74.36 327.4h0.35v-0.4h-0.35zM74.75 327.4h0.35v-0.4h-0.35zM75.14 327.4h0.35v-0.41h-0.35zM75.52 327.4h0.35v-0.35h-0.35zM75.91 327.4h0.35v-0.34h-0.35zM76.3 327.4h0.35v-0.32h-0.35zM76.68 327.4h0.35v-0.3h-0.35zM77.07 327.4h0.35v-0.31h-0.35zM77.46 327.4h0.35v-0.36h-0.35zM77.84 327.4h0.35v-0.38h-0.35zM78.23 327.4h0.35v-0.33h-0.35zM78.62 327.4h0.35v-0.29h-0.35zM79.01 327.4h0.35v-0.3h-0.35zM79.39 327.4h0.35v-0.3h-0.35zM79.78 327.4h0.35v-0.29h-0.35zM80.17 327.4h0.35v-0.32h-0.35zM80.55 327.4h0.35v-0.32h-0.35zM80.94 327.4h0.35v-0.3h-0.35zM81.33 327.4h0.35v-0.3h-0.35zM81.71 327.4h0.35v-0.28h-0.35zM82.1 327.4h0.35v-0.29h-0.35zM82.49 327.4h0.35v-0.32h-0.35zM82.87 327.4h0.35v-0.39h-0.35zM83.26 327.4h0.35v-0.4h-0.35zM83.65 327.4h0.35v-0.37h-0.35zM84.04 327.4h0.35v-0.34h-0.35zM84.42 327.4h0.35v-0.33h-0.35zM84.81 327.4h0.35v-0.34h-0.35zM85.2 327.4h0.35v-0.4h-0.35zM85.58 327.4h0.35v-0.51h-0.35zM85.97 327.4h0.35v-0.52h-0.35zM86.36 327.4h0.35v-0.55h-0.35zM86.74 327.4h0.35v-0.63h-0.35zM87.13 327.4h0.35v-0.57h-0.35zM87.52 327.4h0.35v-0.65h-0.35zM87.9 327.4h0.35v-0.75h-0.35zM88.29 327.4h0.35v-0.94h-0.35zM88.68 327.4h0.35v-0.86h-0.35zM89.06 327.4h0.35v-0.84h-0.35zM89.45 327.4h0.35v-0.83h-0.35zM89.84 327.4h0.35v-0.84h-0.35zM90.23 327.4h0.35v-0.88h-0.35zM90.61 327.4h0.35v-1.05h-0.35zM91 327.4h0.35v-1.23h-0.35zM91.39 327.4h0.35v-1.24h-0.35zM91.77 327.4h0.35v-1.04h-0.35zM92.16 327.4h0.35v-1.01h-0.35zM92.55 327.4h0.35v-1.09h-0.35zM92.93 327.4h0.35v-1.14h-0.35zM93.32 327.4h0.35v-1.15h-0.35zM93.71 327.4h0.35v-1.37h-0.35zM94.09 327.4h0.35v-1.23h-0.35zM94.48 327.4h0.35v-1.23h-0.35zM94.87 327.4h0.35v-1.29h-0.35zM95.26 327.4h0.35v-1.24h-0.35zM95.64 327.4h0.35v-1.26h-0.35zM96.03 327.4h0.35v-1.36h-0.35zM96.42 327.4h0.35v-1.4h-0.35zM96.8 327.4h0.35v-1.33h-0.35zM97.19 327.4h0.35v-1.25h-0.35zM97.58 327.4h0.35v-1.25h-0.35zM97.96 327.4h0.35v-1.23h-0.35zM98.35 327.4h0.35v-1.28h-0.35zM98.74 327.4h0.35v-1.31h-0.35zM99.12 327.4h0.35v-1.5h-0.35zM99.51 327.4h0.35v-1.48h-0.35zM99.9 327.4h0.35v-1.31h-0.35zM100.28 327.4h0.35v-1.28h-0.35zM100.67 327.4h0.35v-1.14h-0.35zM101.06 327.4h0.35v-1.3h-0.35zM101.45 327.4h0.35v-1.27h-0.35zM101.83 327.4h0.35v-1.65h-0.35zM102.22 327.4h0.35v-1.55h-0.35zM102.61 327.4h0.35v-1.38h-0.35zM102.99 327.4h0.35v-1.28h-0.35zM103.38 327.4h0.35v-1.27h-0.35zM103.77 327.4h0.35v-1.36h-0.35zM104.15 327.4h0.35v-1.47h-0.35zM104.54 327.4h0.35v-1.56h-0.35zM104.93 327.4h0.35v-1.52h-0.35zM105.31 327.4h0.35v-1.55h-0.35zM105.7 327.4h0.35v-1.51h-0.35zM106.09 327.4h0.35v-1.43h-0.35zM106.48 327.4h0.35v-1.42h-0.35zM106.86 327.4h0.35v-1.62h-0.35zM107.25 327.4h0.35v-1.73h-0.35zM107.64 327.4h0.35v-1.79h-0.35zM108.02 327.4h0.35v-1.74h-0.35zM108.41 327.4h0.35v-1.81h-0.35zM108.8 327.4h0.35v-1.68h-0.35zM109.18 327.4h0.35v-1.77h-0.35zM109.57 327.4h0.35v-1.79h-0.35zM109.96 327.4h0.35v-2.01h-0.35zM110.34 327.4h0.35v-1.99h-0.35zM110.73 327.4h0.35v-2.1h-0.35zM111.12 327.4h0.35v-1.94h-0.35zM111.51 327.4h0.35v-1.77h-0.35zM111.89 327.4h0.35v-1.72h-0.35zM112.28 327.4h0.35v-1.99h-0.35zM112.67 327.4h0.35v-2.4h-0.35zM113.05 327.4h0.35v-2.27h-0.35zM113.44 327.4h0.35v-2.08h-0.35zM113.83 327.4h0.35v-2.13h-0.35zM114.21 327.4h0.35v-2.16h-0.35zM114.6 327.4h0.35v-1.96h-0.35zM114.99 327.4h0.35v-2.05h-0.35zM115.37 327.4h0.35v-2.57h-0.35zM115.76 327.4h0.35v-2.61h-0.35zM116.15 327.4h0.35v-2.59h-0.35zM116.53 327.4h0.35v-2.34h-0.35zM116.92 327.4h0.35v-2.54h-0.35zM117.31 327.4h0.35v-2.58h-0.35zM117.7 327.4h0.35v-2.7h-0.35zM118.08 327.4h0.35v-2.96h-0.35zM118.47 327.4h0.35v-3.2h-0.35zM118.86 327.4h0.35v-2.65h-0.35zM119.24 327.4h0.35v-2.68h-0.35zM119.63 327.4h0.35v-2.31h-0.35zM120.02 327.4h0.35v-2.3h-0.35zM120.4 327.4h0.35v-2.68h-0.35zM120.79 327.4h0.35v-2.89h-0.35zM121.18 327.4h0.35v-3.14h-0.35zM121.56 327.4h0.35v-2.74h-0.35zM121.95 327.4h0.35v-2.49h-0.35zM122.34 327.4h0.35v-2.42h-0.35zM122.73 327.4h0.35v-2.52h-0.35zM123.11 327.4h0.35v-2.8h-0.35zM123.5 327.4h0.35v-3.4h-0.35zM123.89 327.4h0.35v-2.93h-0.35zM124.27 327.4h0.35v-2.86h-0.35zM124.66 327.4h0.35v-2.65h-0.35zM125.05 327.4h0.35v-2.91h-0.35zM125.43 327.4h0.35v-2.6h-0.35zM125.82 327.4h0.35v-2.75h-0.35zM126.21 327.4h0.35v-3.24h-0.35zM126.59 327.4h0.35v-3.39h-0.35zM126.98 327.4h0.35v-3.47h-0.35zM127.37 327.4h0.35v-3.34h-0.35zM127.75 327.4h0.35v-3.18h-0.35zM128.14 327.4h0.35v-3.37h-0.35zM128.53 327.4h0.35v-3.58h-0.35zM128.92 327.4h0.35v-3.83h-0.35zM129.3 327.4h0.35v-3.69h-0.35zM129.69 327.4h0.35v-3.91h-0.35zM130.08 327.4h0.35v-3.66h-0.35zM130.46 327.4h0.35v-3.18h-0.35zM130.85 327.4h0.35v-3.58h-0.35zM131.24 327.4h0.35v-3.68h-0.35zM131.62 327.4h0.35v-4.31h-0.35zM132.01 327.4h0.35v-4.23h-0.35zM132.4 327.4h0.35v-3.88h-0.35zM132.78 327.4h0.35v-3.63h-0.35zM133.17 327.4h0.35v-3.71h-0.35zM133.56 327.4h0.35v-3.81h-0.35zM133.95 327.4h0.35v-4.51h-0.35zM134.33 327.4h0.35v-4.68h-0.35zM134.72 327.4h0.35v-5.33h-0.35zM135.11 327.4h0.35v-4.5h-0.35zM135.49 327.4h0.35v-4.48h-0.35zM135.88 327.4h0.35v-4.74h-0.35zM136.27 327.4h0.35v-4.85h-0.35zM136.65 327.4h0.35v-4.94h-0.35zM137.04 327.4h0.35v-5.45h-0.35zM137.43 327.4h0.35v-5.73h-0.35zM137.81 327.4h0.35v-5.28h-0.35zM138.2 327.4h0.35v-5h-0.35zM138.59 327.4h0.35v-4.16h-0.35zM138.97 327.4h0.35v-4.32h-0.35zM139.36 327.4h0.35v-5.25h-0.35zM139.75 327.4h0.35v-5.9h-0.35zM140.14 327.4h0.35v-6.19h-0.35zM140.52 327.4h0.35v-6.02h-0.35zM140.91 327.4h0.35v-5.63h-0.35zM141.3 327.4h0.35v-4.79h-0.35zM141.68 327.4h0.35v-4.95h-0.35zM142.07 327.4h0.35v-5.81h-0.35zM142.46 327.4h0.35v-9.1h-0.35zM142.84 327.4h0.35v-8.28h-0.35zM143.23 327.4h0.35v-8.33h-0.35zM143.62 327.4h0.35v-8.18h-0.35zM144 327.4h0.35v-7.46h-0.35zM144.39 327.4h0.35v-7.96h-0.35zM144.78 327.4h0.35v-10.56h-0.35zM145.17 327.4h0.35v-13.71h-0.35zM145.55 327.4h0.35v-13.13h-0.35zM145.94 327.4h0.35v-12.28h-0.35zM146.33 327.4h0.35v-10.17h-0.35zM146.71 327.4h0.35v-9.06h-0.35zM147.1 327.4h0.35v-8.57h-0.35zM147.49 327.4h0.35v-10.74h-0.35zM147.87 327.4h0.35v-14.1h-0.35zM148.26 327.4h0.35v-12.86h-0.35zM148.65 327.4h0.35v-12.14h-0.35zM149.03 327.4h0.35v-9.78h-0.35zM149.42 327.4h0.35v-9.62h-0.35zM149.81 327.4h0.35v-10.26h-0.35zM150.19 327.4h0.35v-12.56h-0.35zM150.58 327.4h0.35v-16.5h-0.35zM150.97 327.4h0.35v-14.74h-0.35zM151.36 327.4h0.35v-13h-0.35zM151.74 327.4h0.35v-12.46h-0.35zM152.13 327.4h0.35v-12.07h-0.35zM152.52 327.4h0.35v-13.41h-0.35zM152.9 327.4h0.35v-13.69h-0.35zM153.29 327.4h0.35v-20.05h-0.35zM153.68 327.4h0.35v-19.17h-0.35zM154.06 327.4h0.35v-17.28h-0.35zM154.45 327.4h0.35v-15.76h-0.35zM154.84 327.4h0.35v-14.44h-0.35zM155.22 327.4h0.35v-15.92h-0.35zM155.61 327.4h0.35v-19.96h-0.35zM156 327.4h0.35v-31.45h-0.35zM156.39 327.4h0.35v-33.85h-0.35zM156.77 327.4h0.35v-26.46h-0.35zM157.16 327.4h0.35v-24.44h-0.35zM157.55 327.4h0.35v-23.19h-0.35zM157.93 327.4h0.35v-20.26h-0.35zM158.32 327.4h0.35v-22.06h-0.35zM158.71 327.4h0.35v-28.92h-0.35zM159.09 327.4h0.35v-32.55h-0.35zM159.48 327.4h0.35v-27.66h-0.35zM159.87 327.4h0.35v-27.72h-0.35zM160.25 327.4h0.35v-14.33h-0.35z"/>
<path d="M27.5 251 V331.2 H171.1" fill="none" stroke="#000" stroke-width="1"/>
<path d="M25.3 327.4H27.5M25.3 307.1H27.5M25.3 286.8H27.5M25.3 266.5H27.5M34.3 331.2V333.4M46.29 331.2V333.4M57.51 331.2V333.4M69.51 331.2V333.4M81.11 331.2V333.4M93.11 331.2V333.4M104.72 331.2V333.4M116.71 331.2V333.4M128.7 331.2V333.4M140.31 331.2V333.4M152.3 331.2V333.4M163.91 331.2V333.4" stroke="#222" stroke-width="1" fill="none"/>
<polygon points="236,278.9 236.3,286.7 237.1,292.53 238.6,293.83 239.7,297.3 241.3,294.95 242.9,303.65 244.5,310.45 246.5,314.14 248.6,310.68 250.1,305.8 251.2,304.2 252.3,308.6 253.9,313.4 255.9,313 258,308.6 259.6,312.1 261.4,311.53 263,304.7 264.6,274.9 265.8,280.9 266.9,292.13 268.4,292 269.6,294.9 270.7,301.81 272.4,301.72 274.1,304.53 276.4,305.95 277.6,307.69 279.3,309.24 281,307.3 283.3,306.78 285.6,306.25 287.9,305.83 289.6,306.99 291.3,305.11 293,302.41 294.5,303.02 296.4,304.73 298.1,308.13 300.4,309.94 301.9,306.55 303.9,305.96 306.4,308.47 309,304.68 311.8,308.49 313.9,306.2 316.1,304 318,306.01 320.3,307.92 322.1,305.33 323.5,303.43 325.1,306.64 326.7,308.55 328.5,304.75 330.5,305.36 332.1,305.77 333.7,303.47 335.3,302.18 337,305.39 338.6,307.99 338.6,309.61 337,307.01 335.3,303.82 333.7,305.13 332.1,307.43 330.5,307.04 328.5,306.45 326.7,310.25 325.1,308.36 323.5,305.17 322.1,307.07 320.3,309.68 318,307.79 316.1,305.8 313.9,308 311.8,310.31 309,306.52 306.4,310.33 303.9,307.84 301.9,308.45 300.4,311.86 298.1,310.07 296.4,306.67 294.5,304.98 293,304.39 291.3,307.09 289.6,309.01 287.9,307.97 285.6,308.55 283.3,309.22 281,309.9 279.3,311.96 277.6,310.51 276.4,308.85 274.1,308.07 272.4,306.28 270.7,307.39 269.6,301.7 268.4,301.2 266.9,304.3 265.8,294.9 264.6,285.9 263,312.7 261.4,320.87 259.6,322.6 258,319.1 255.9,323.5 253.9,323.9 252.3,319.1 251.2,314.7 250.1,316.3 248.6,320.65 246.5,323.32 244.5,318.2 242.9,310.23 241.3,302.87 239.7,306.7 238.6,304.7 237.1,305.4 236.3,308.1 236,303.9" fill="#dadada"/>
<line x1="204" y1="309.4" x2="350.5" y2="309.4" stroke="#000" stroke-width="1.2" stroke-dasharray="1.3 2.57" stroke-dashoffset="2.05"/>
<polyline points="236,288.9 236.3,295.2 237.1,297.5 238.6,298.3 239.7,301.4 241.3,298.3 242.9,306.2 244.5,313.2 245.5,314.88 246.5,317.2 247.55,316.16 248.6,314 250.1,309.3 251.2,307.7 252.3,312.1 253.9,316.9 254.9,316.37 255.9,316.5 256.95,314.91 258,312.1 259.6,315.6 260.5,314.65 261.4,314.8 263,307.7 264.6,277.9 265.8,288.9 266.9,298.3 268.4,296.6 269.6,298.3 270.7,304.6 272.4,304 274.1,306.3 275.25,307.29 276.4,307.4 277.6,309.1 279.3,310.6 281,308.6 282.15,307.74 283.3,308 284.45,308.23 285.6,307.4 286.75,306.88 287.9,306.9 289.6,308 291.3,306.1 293,303.4 294.5,304 295.45,305.37 296.4,305.7 298.1,309.1 299.25,309.44 300.4,310.9 301.9,307.5 302.9,307.71 303.9,306.9 305.15,307.46 306.4,309.4 307.7,308.12 309,305.6 310.4,307.06 311.8,309.4 312.85,308.61 313.9,307.1 315,305.69 316.1,304.9 317.05,306.56 318,306.9 319.15,307.26 320.3,308.8 321.2,308.05 322.1,306.2 323.5,304.3 325.1,307.5 326.7,309.4 327.6,307.03 328.5,305.6 329.5,306.4 330.5,306.2 332.1,306.6 333.7,304.3 335.3,303 337,306.2 338.6,308.8" fill="none" stroke="#000" stroke-width="1.1" stroke-linejoin="round"/>
<path d="M202 251 V331.2 H350.5" fill="none" stroke="#000" stroke-width="1"/>
<path d="M199.8 318.55H202M199.8 309.4H202M199.8 300.25H202M199.8 291.1H202M199.8 281.95H202M199.8 272.8H202M199.8 263.65H202M208.8 331.2V333.4M221.15 331.2V333.4M232.71 331.2V333.4M245.06 331.2V333.4M257.02 331.2V333.4M269.37 331.2V333.4M281.33 331.2V333.4M293.68 331.2V333.4M306.03 331.2V333.4M317.99 331.2V333.4M330.34 331.2V333.4M342.3 331.2V333.4" stroke="#222" stroke-width="1" fill="none"/>
</g>
<defs><filter id="tb" x="0" y="0" width="350" height="350" filterUnits="userSpaceOnUse" color-interpolation-filters="sRGB"><feConvolveMatrix order="3" kernelMatrix="0.0000 0.0000 0.0000 0.0000 1.0000 0.0000 0.0000 0.0000 0.0000" divisor="1" edgeMode="duplicate"/></filter></defs>
<g filter="url(#tb)"><text transform="translate(23.8 91.6) scale(1 1.15)" font-size="6.2" text-anchor="end" fill="#404040">0</text><text transform="translate(23.8 71.3) scale(1 1.15)" font-size="6.2" text-anchor="end" fill="#404040">500</text><text transform="translate(23.8 51) scale(1 1.15)" font-size="6.2" text-anchor="end" fill="#404040">1000</text><text transform="translate(23.8 30.7) scale(1 1.15)" font-size="6.2" text-anchor="end" fill="#404040">1500</text><text transform="translate(34.3 101.5) scale(1 1.15)" font-size="6.2" text-anchor="middle" fill="#404040">Jan</text><text transform="translate(46.29 101.5) scale(1 1.15)" font-size="6.2" text-anchor="middle" fill="#404040">Feb</text><text transform="translate(57.51 101.5) scale(1 1.15)" font-size="6.2" text-anchor="middle" fill="#404040">Mar</text><text transform="translate(69.51 101.5) scale(1 1.15)" font-size="6.2" text-anchor="middle" fill="#404040">Apr</text><text transform="translate(81.11 101.5) scale(1 1.15)" font-size="6.2" text-anchor="middle" fill="#404040">May</text><text transform="translate(93.11 101.5) scale(1 1.15)" font-size="6.2" text-anchor="middle" fill="#404040">Jun</text><text transform="translate(104.72 101.5) scale(1 1.15)" font-size="6.2" text-anchor="middle" fill="#404040">Jul</text><text transform="translate(116.71 101.5) scale(1 1.15)" font-size="6.2" text-anchor="middle" fill="#404040">Aug</text><text transform="translate(128.7 101.5) scale(1 1.15)" font-size="6.2" text-anchor="middle" fill="#404040">Sep</text><text transform="translate(140.31 101.5) scale(1 1.15)" font-size="6.2" text-anchor="middle" fill="#404040">Oct</text><text transform="translate(152.3 101.5) scale(1 1.15)" font-size="6.2" text-anchor="middle" fill="#404040">Nov</text><text transform="translate(163.91 101.5) scale(1 1.15)" font-size="6.2" text-anchor="middle" fill="#404040">Dec</text><text transform="translate(99.3 109.6) scale(1 1.07)" font-size="7.3" text-anchor="middle" fill="#303030">Assumed date of infection</text><text transform="translate(6.9 52.9) rotate(-90) scale(1 1.15)" font-size="7.3" text-anchor="middle" fill="#404040">Daily number of new cases</text><text transform="translate(27.8 6.7) scale(1 1.08)" font-size="8.3" fill="#303030">Alberta</text><text transform="translate(198.5 82.75) scale(1 1.15)" font-size="6.2" text-anchor="end" fill="#404040">0.5</text><text transform="translate(198.5 73.6) scale(1 1.15)" font-size="6.2" text-anchor="end" fill="#404040">1.0</text><text transform="translate(198.5 64.45) scale(1 1.15)" font-size="6.2" text-anchor="end" fill="#404040">1.5</text><text transform="translate(198.5 55.3) scale(1 1.15)" font-size="6.2" text-anchor="end" fill="#404040">2.0</text><text transform="translate(198.5 46.15) scale(1 1.15)" font-size="6.2" text-anchor="end" fill="#404040">2.5</text><text transform="translate(198.5 37) scale(1 1.15)" font-size="6.2" text-anchor="end" fill="#404040">3.0</text><text transform="translate(198.5 27.85) scale(1 1.15)" font-size="6.2" text-anchor="end" fill="#404040">3.5</text><text transform="translate(208.8 101.5) scale(1 1.15)" font-size="6.2" text-anchor="middle" fill="#404040">Jan</text><text transform="translate(221.15 101.5) scale(1 1.15)" font-size="6.2" text-anchor="middle" fill="#404040">Feb</text><text transform="translate(232.71 101.5) scale(1 1.15)" font-size="6.2" text-anchor="middle" fill="#404040">Mar</text><text transform="translate(245.06 101.5) scale(1 1.15)" font-size="6.2" text-anchor="middle" fill="#404040">Apr</text><text transform="translate(257.02 101.5) scale(1 1.15)" font-size="6.2" text-anchor="middle" fill="#404040">May</text><text transform="translate(269.37 101.5) scale(1 1.15)" font-size="6.2" text-anchor="middle" fill="#404040">Jun</text><text transform="translate(281.33 101.5) scale(1 1.15)" font-size="6.2" text-anchor="middle" fill="#404040">Jul</text><text transform="translate(293.68 101.5) scale(1 1.15)" font-size="6.2" text-anchor="middle" fill="#404040">Aug</text><text transform="translate(306.03 101.5) scale(1 1.15)" font-size="6.2" text-anchor="middle" fill="#404040">Sep</text><text transform="translate(317.99 101.5) scale(1 1.15)" font-size="6.2" text-anchor="middle" fill="#404040">Oct</text><text transform="translate(330.34 101.5) scale(1 1.15)" font-size="6.2" text-anchor="middle" fill="#404040">Nov</text><text transform="translate(342.3 101.5) scale(1 1.15)" font-size="6.2" text-anchor="middle" fill="#404040">Dec</text><text transform="translate(275.3 109.6) scale(1 1.07)" font-size="7.3" text-anchor="middle" fill="#303030">Assumed date of infection</text><text transform="translate(184.5 52.9) rotate(-90) scale(1 1.12)" font-size="7.6" text-anchor="middle" fill="#404040">R<tspan font-size="5.6" dy="1.7">t</tspan></text><text transform="translate(202.5 6.7) scale(1 1.08)" font-size="8.3" fill="#303030">Alberta</text><text transform="translate(23.8 210.5) scale(1 1.15)" font-size="6.2" text-anchor="end" fill="#404040">0</text><text transform="translate(23.8 190.2) scale(1 1.15)" font-size="6.2" text-anchor="end" fill="#404040">500</text><text transform="translate(23.8 169.9) scale(1 1.15)" font-size="6.2" text-anchor="end" fill="#404040">1000</text><text transform="translate(23.8 149.6) scale(1 1.15)" font-size="6.2" text-anchor="end" fill="#404040">1500</text><text transform="translate(34.3 220.4) scale(1 1.15)" font-size="6.2" text-anchor="middle" fill="#404040">Jan</text><text transform="translate(46.29 220.4) scale(1 1.15)" font-size="6.2" text-anchor="middle" fill="#404040">Feb</text><text transform="translate(57.51 220.4) scale(1 1.15)" font-size="6.2" text-anchor="middle" fill="#404040">Mar</text><text transform="translate(69.51 220.4) scale(1 1.15)" font-size="6.2" text-anchor="middle" fill="#404040">Apr</text><text transform="translate(81.11 220.4) scale(1 1.15)" font-size="6.2" text-anchor="middle" fill="#404040">May</text><text transform="translate(93.11 220.4) scale(1 1.15)" font-size="6.2" text-anchor="middle" fill="#404040">Jun</text><text transform="translate(104.72 220.4) scale(1 1.15)" font-size="6.2" text-anchor="middle" fill="#404040">Jul</text><text transform="translate(116.71 220.4) scale(1 1.15)" font-size="6.2" text-anchor="middle" fill="#404040">Aug</text><text transform="translate(128.7 220.4) scale(1 1.15)" font-size="6.2" text-anchor="middle" fill="#404040">Sep</text><text transform="translate(140.31 220.4) scale(1 1.15)" font-size="6.2" text-anchor="middle" fill="#404040">Oct</text><text transform="translate(152.3 220.4) scale(1 1.15)" font-size="6.2" text-anchor="middle" fill="#404040">Nov</text><text transform="translate(163.91 220.4) scale(1 1.15)" font-size="6.2" text-anchor="middle" fill="#404040">Dec</text><text transform="translate(99.3 228.5) scale(1 1.07)" font-size="7.3" text-anchor="middle" fill="#303030">Assumed date of infection</text><text transform="translate(6.9 171.8) rotate(-90) scale(1 1.15)" font-size="7.3" text-anchor="middle" fill="#404040">Daily number of new cases</text><text transform="translate(27.8 125.6) scale(1 1.08)" font-size="8.3" fill="#303030">Calgary Zone, AB</text><text transform="translate(198.5 201.65) scale(1 1.15)" font-size="6.2" text-anchor="end" fill="#404040">0.5</text><text transform="translate(198.5 192.5) scale(1 1.15)" font-size="6.2" text-anchor="end" fill="#404040">1.0</text><text transform="translate(198.5 183.35) scale(1 1.15)" font-size="6.2" text-anchor="end" fill="#404040">1.5</text><text transform="translate(198.5 174.2) scale(1 1.15)" font-size="6.2" text-anchor="end" fill="#404040">2.0</text><text transform="translate(198.5 165.05) scale(1 1.15)" font-size="6.2" text-anchor="end" fill="#404040">2.5</text><text transform="translate(198.5 155.9) scale(1 1.15)" font-size="6.2" text-anchor="end" fill="#404040">3.0</text><text transform="translate(198.5 146.75) scale(1 1.15)" font-size="6.2" text-anchor="end" fill="#404040">3.5</text><text transform="translate(208.8 220.4) scale(1 1.15)" font-size="6.2" text-anchor="middle" fill="#404040">Jan</text><text transform="translate(221.15 220.4) scale(1 1.15)" font-size="6.2" text-anchor="middle" fill="#404040">Feb</text><text transform="translate(232.71 220.4) scale(1 1.15)" font-size="6.2" text-anchor="middle" fill="#404040">Mar</text><text transform="translate(245.06 220.4) scale(1 1.15)" font-size="6.2" text-anchor="middle" fill="#404040">Apr</text><text transform="translate(257.02 220.4) scale(1 1.15)" font-size="6.2" text-anchor="middle" fill="#404040">May</text><text transform="translate(269.37 220.4) scale(1 1.15)" font-size="6.2" text-anchor="middle" fill="#404040">Jun</text><text transform="translate(281.33 220.4) scale(1 1.15)" font-size="6.2" text-anchor="middle" fill="#404040">Jul</text><text transform="translate(293.68 220.4) scale(1 1.15)" font-size="6.2" text-anchor="middle" fill="#404040">Aug</text><text transform="translate(306.03 220.4) scale(1 1.15)" font-size="6.2" text-anchor="middle" fill="#404040">Sep</text><text transform="translate(317.99 220.4) scale(1 1.15)" font-size="6.2" text-anchor="middle" fill="#404040">Oct</text><text transform="translate(330.34 220.4) scale(1 1.15)" font-size="6.2" text-anchor="middle" fill="#404040">Nov</text><text transform="translate(342.3 220.4) scale(1 1.15)" font-size="6.2" text-anchor="middle" fill="#404040">Dec</text><text transform="translate(275.3 228.5) scale(1 1.07)" font-size="7.3" text-anchor="middle" fill="#303030">Assumed date of infection</text><text transform="translate(184.5 171.8) rotate(-90) scale(1 1.12)" font-size="7.6" text-anchor="middle" fill="#404040">R<tspan font-size="5.6" dy="1.7">t</tspan></text><text transform="translate(202.5 125.6) scale(1 1.08)" font-size="8.3" fill="#303030">Calgary Zone, AB</text><text transform="translate(23.8 329.6) scale(1 1.15)" font-size="6.2" text-anchor="end" fill="#404040">0</text><text transform="translate(23.8 309.3) scale(1 1.15)" font-size="6.2" text-anchor="end" fill="#404040">500</text><text transform="translate(23.8 289) scale(1 1.15)" font-size="6.2" text-anchor="end" fill="#404040">1000</text><text transform="translate(23.8 268.7) scale(1 1.15)" font-size="6.2" text-anchor="end" fill="#404040">1500</text><text transform="translate(34.3 339.5) scale(1 1.15)" font-size="6.2" text-anchor="middle" fill="#404040">Jan</text><text transform="translate(46.29 339.5) scale(1 1.15)" font-size="6.2" text-anchor="middle" fill="#404040">Feb</text><text transform="translate(57.51 339.5) scale(1 1.15)" font-size="6.2" text-anchor="middle" fill="#404040">Mar</text><text transform="translate(69.51 339.5) scale(1 1.15)" font-size="6.2" text-anchor="middle" fill="#404040">Apr</text><text transform="translate(81.11 339.5) scale(1 1.15)" font-size="6.2" text-anchor="middle" fill="#404040">May</text><text transform="translate(93.11 339.5) scale(1 1.15)" font-size="6.2" text-anchor="middle" fill="#404040">Jun</text><text transform="translate(104.72 339.5) scale(1 1.15)" font-size="6.2" text-anchor="middle" fill="#404040">Jul</text><text transform="translate(116.71 339.5) scale(1 1.15)" font-size="6.2" text-anchor="middle" fill="#404040">Aug</text><text transform="translate(128.7 339.5) scale(1 1.15)" font-size="6.2" text-anchor="middle" fill="#404040">Sep</text><text transform="translate(140.31 339.5) scale(1 1.15)" font-size="6.2" text-anchor="middle" fill="#404040">Oct</text><text transform="translate(152.3 339.5) scale(1 1.15)" font-size="6.2" text-anchor="middle" fill="#404040">Nov</text><text transform="translate(163.91 339.5) scale(1 1.15)" font-size="6.2" text-anchor="middle" fill="#404040">Dec</text><text transform="translate(99.3 347.6) scale(1 1.07)" font-size="7.3" text-anchor="middle" fill="#303030">Assumed date of infection</text><text transform="translate(6.9 290.9) rotate(-90) scale(1 1.15)" font-size="7.3" text-anchor="middle" fill="#404040">Daily number of new cases</text><text transform="translate(27.8 244.7) scale(1 1.08)" font-size="8.3" fill="#303030">Edmonton Zone, AB</text><text transform="translate(198.5 320.75) scale(1 1.15)" font-size="6.2" text-anchor="end" fill="#404040">0.5</text><text transform="translate(198.5 311.6) scale(1 1.15)" font-size="6.2" text-anchor="end" fill="#404040">1.0</text><text transform="translate(198.5 302.45) scale(1 1.15)" font-size="6.2" text-anchor="end" fill="#404040">1.5</text><text transform="translate(198.5 293.3) scale(1 1.15)" font-size="6.2" text-anchor="end" fill="#404040">2.0</text><text transform="translate(198.5 284.15) scale(1 1.15)" font-size="6.2" text-anchor="end" fill="#404040">2.5</text><text transform="translate(198.5 275) scale(1 1.15)" font-size="6.2" text-anchor="end" fill="#404040">3.0</text><text transform="translate(198.5 265.85) scale(1 1.15)" font-size="6.2" text-anchor="end" fill="#404040">3.5</text><text transform="translate(208.8 339.5) scale(1 1.15)" font-size="6.2" text-anchor="middle" fill="#404040">Jan</text><text transform="translate(221.15 339.5) scale(1 1.15)" font-size="6.2" text-anchor="middle" fill="#404040">Feb</text><text transform="translate(232.71 339.5) scale(1 1.15)" font-size="6.2" text-anchor="middle" fill="#404040">Mar</text><text transform="translate(245.06 339.5) scale(1 1.15)" font-size="6.2" text-anchor="middle" fill="#404040">Apr</text><text transform="translate(257.02 339.5) scale(1 1.15)" font-size="6.2" text-anchor="middle" fill="#404040">May</text><text transform="translate(269.37 339.5) scale(1 1.15)" font-size="6.2" text-anchor="middle" fill="#404040">Jun</text><text transform="translate(281.33 339.5) scale(1 1.15)" font-size="6.2" text-anchor="middle" fill="#404040">Jul</text><text transform="translate(293.68 339.5) scale(1 1.15)" font-size="6.2" text-anchor="middle" fill="#404040">Aug</text><text transform="translate(306.03 339.5) scale(1 1.15)" font-size="6.2" text-anchor="middle" fill="#404040">Sep</text><text transform="translate(317.99 339.5) scale(1 1.15)" font-size="6.2" text-anchor="middle" fill="#404040">Oct</text><text transform="translate(330.34 339.5) scale(1 1.15)" font-size="6.2" text-anchor="middle" fill="#404040">Nov</text><text transform="translate(342.3 339.5) scale(1 1.15)" font-size="6.2" text-anchor="middle" fill="#404040">Dec</text><text transform="translate(275.3 347.6) scale(1 1.07)" font-size="7.3" text-anchor="middle" fill="#303030">Assumed date of infection</text><text transform="translate(184.5 290.9) rotate(-90) scale(1 1.12)" font-size="7.6" text-anchor="middle" fill="#404040">R<tspan font-size="5.6" dy="1.7">t</tspan></text><text transform="translate(202.5 244.7) scale(1 1.08)" font-size="8.3" fill="#303030">Edmonton Zone, AB</text></g>
</svg></div></body></html>
